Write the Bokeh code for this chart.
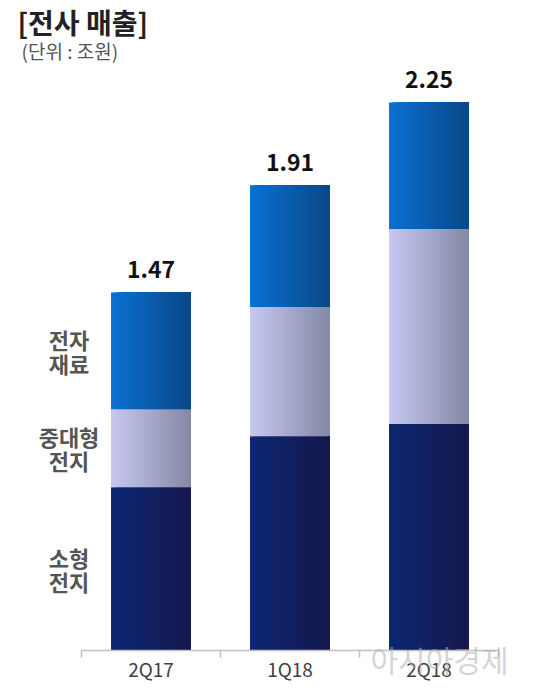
import numpy as np
from bokeh.plotting import figure
from bokeh.models import ColumnDataSource, Range1d, Label
from bokeh.core.properties import value
from bokeh.embed import file_html
from bokeh.resources import INLINE

# ---- data ----
quarters = ["2Q17", "1Q18", "2Q18"]
small_battery = [0.67, 0.88, 0.93]      # 소형 전지
midlarge_battery = [0.32, 0.53, 0.80]   # 중대형 전지
materials = [0.48, 0.50, 0.52]          # 전자 재료
totals = [1.47, 1.91, 2.25]
total_labels = ["1.47", "1.91", "2.25"]
segment_names = ["소형\n전지", "중대형\n전지", "전자\n재료"]
title_text = "[전사 매출]"
unit_text = "(단위 : 조원)"
watermark_text = "아시아경제"

FONT = "Noto Sans CJK KR"

# gradient end colours per segment (left -> right)
seg_colors = [("#0c2672", "#15194c"),
              ("#c6c6f0", "#858aa6"),
              ("#0a70d0", "#0a4888")]


def hex2rgb(h):
    h = h.lstrip("#")
    return np.array([int(h[i:i + 2], 16) for i in (0, 2, 4)], dtype=float)


def lerp(c1, c2, t):
    a, b = hex2rgb(c1), hex2rgb(c2)
    c = a + (b - a) * t
    return "#%02x%02x%02x" % tuple(int(round(v)) for v in c)


W, H = 534, 684
n = len(quarters)
idx = np.arange(n) + 0.5
bar_w = 0.575
N = 28

series = [small_battery, midlarge_battery, materials]
bottoms, tops = [], []
run = np.zeros(n)
for s in series:
    bottoms.append(run.copy())
    run = run + np.array(s)
    tops.append(run.copy())

# whole figure is the plot frame; axis is drawn with glyphs
px_x = 139.0    # pixels per category
base_px = 650   # baseline from top
px_y = 243.6    # pixels per unit (조원)
left_pad = 81
right_pad = W - left_pad - n * px_x
x_range = Range1d(-left_pad / px_x, n + right_pad / px_x)
y_range = Range1d(-(H - base_px) / px_y, base_px / px_y)

p = figure(width=W, height=H, x_range=x_range, y_range=y_range,
           output_backend="svg", toolbar_location=None,
           x_axis_location=None, y_axis_location=None,
           min_border=0, min_border_left=0, min_border_right=0,
           min_border_top=0, min_border_bottom=0)
p.outline_line_color = None
p.grid.visible = False
p.background_fill_color = "white"
p.border_fill_color = "white"

# gradient bars built from overlapping strips (each reaches the bar's right edge)
for i in range(N):
    t = i / (N - 1)
    xs, ws, bs, ts, cs = [], [], [], [], []
    for k in range(len(series)):
        for q in range(n):
            left = idx[q] - bar_w / 2 + i * bar_w / N
            right = idx[q] + bar_w / 2
            xs.append((left + right) / 2)
            ws.append(right - left)
            bs.append(bottoms[k][q])
            ts.append(tops[k][q])
            cs.append(lerp(seg_colors[k][0], seg_colors[k][1], t))
    src = ColumnDataSource(dict(x=xs, w=ws, bottom=bs, top=ts, color=cs))
    p.vbar(x="x", bottom="bottom", top="top", width="w",
           fill_color="color", line_color=None, source=src)

# x axis line + boundary ticks + labels
bounds = np.arange(n + 1)
p.segment(x0=[bounds[0]], y0=[0], x1=[bounds[-1]], y1=[0], line_color="#c0c0c0", line_width=1.5)
p.ray(x=bounds, y=np.zeros(n + 1), length=7, length_units="screen", angle=-np.pi / 2,
      line_color="#c0c0c0", line_width=1.5)
p.text(x=idx, y=np.zeros(n), text=quarters, y_offset=18, text_align="center",
       text_baseline="middle", text_font=value(FONT), text_font_size="19px",
       text_color="#404040")

# total labels
tsrc = ColumnDataSource(dict(x=idx, y=totals, t=total_labels))
p.text(x="x", y="y", text="t", source=tsrc, text_align="center", text_baseline="alphabetic",
       y_offset=-23, text_font=value(FONT), text_font_style="bold",
       text_font_size="23px", text_color="#111111")

# segment labels at the left of the first bar
mids = [(bottoms[k][0] + tops[k][0]) / 2 for k in range(len(series))]
ssrc = ColumnDataSource(dict(x=[idx[0]] * len(series), y=mids, t=segment_names))
p.text(x="x", y="y", text="t", source=ssrc, x_offset=-82, text_align="center",
       text_baseline="middle", text_font=value(FONT), text_font_style="bold",
       text_font_size="22px", text_color="#555555", text_line_height=0.74)

# title & unit (screen units relative to the frame = whole figure)
p.add_layout(Label(x=17, y=H - 21, x_units="screen", y_units="screen", text=title_text,
                   text_baseline="middle", text_font=FONT, text_font_style="bold",
                   text_font_size="28px", text_color="#222222"))
p.add_layout(Label(x=21, y=H - 50, x_units="screen", y_units="screen", text=unit_text,
                   text_baseline="middle", text_font=FONT,
                   text_font_size="19px", text_color="#555555"))

# watermark
p.add_layout(Label(x=370, y=H - 658, x_units="screen", y_units="screen", text=watermark_text,
                   text_baseline="middle", text_font=FONT,
                   text_font_size="30px", text_color="#b0b0b0", text_alpha=0.55))

open("out.html", "w").write(file_html(p, INLINE))
